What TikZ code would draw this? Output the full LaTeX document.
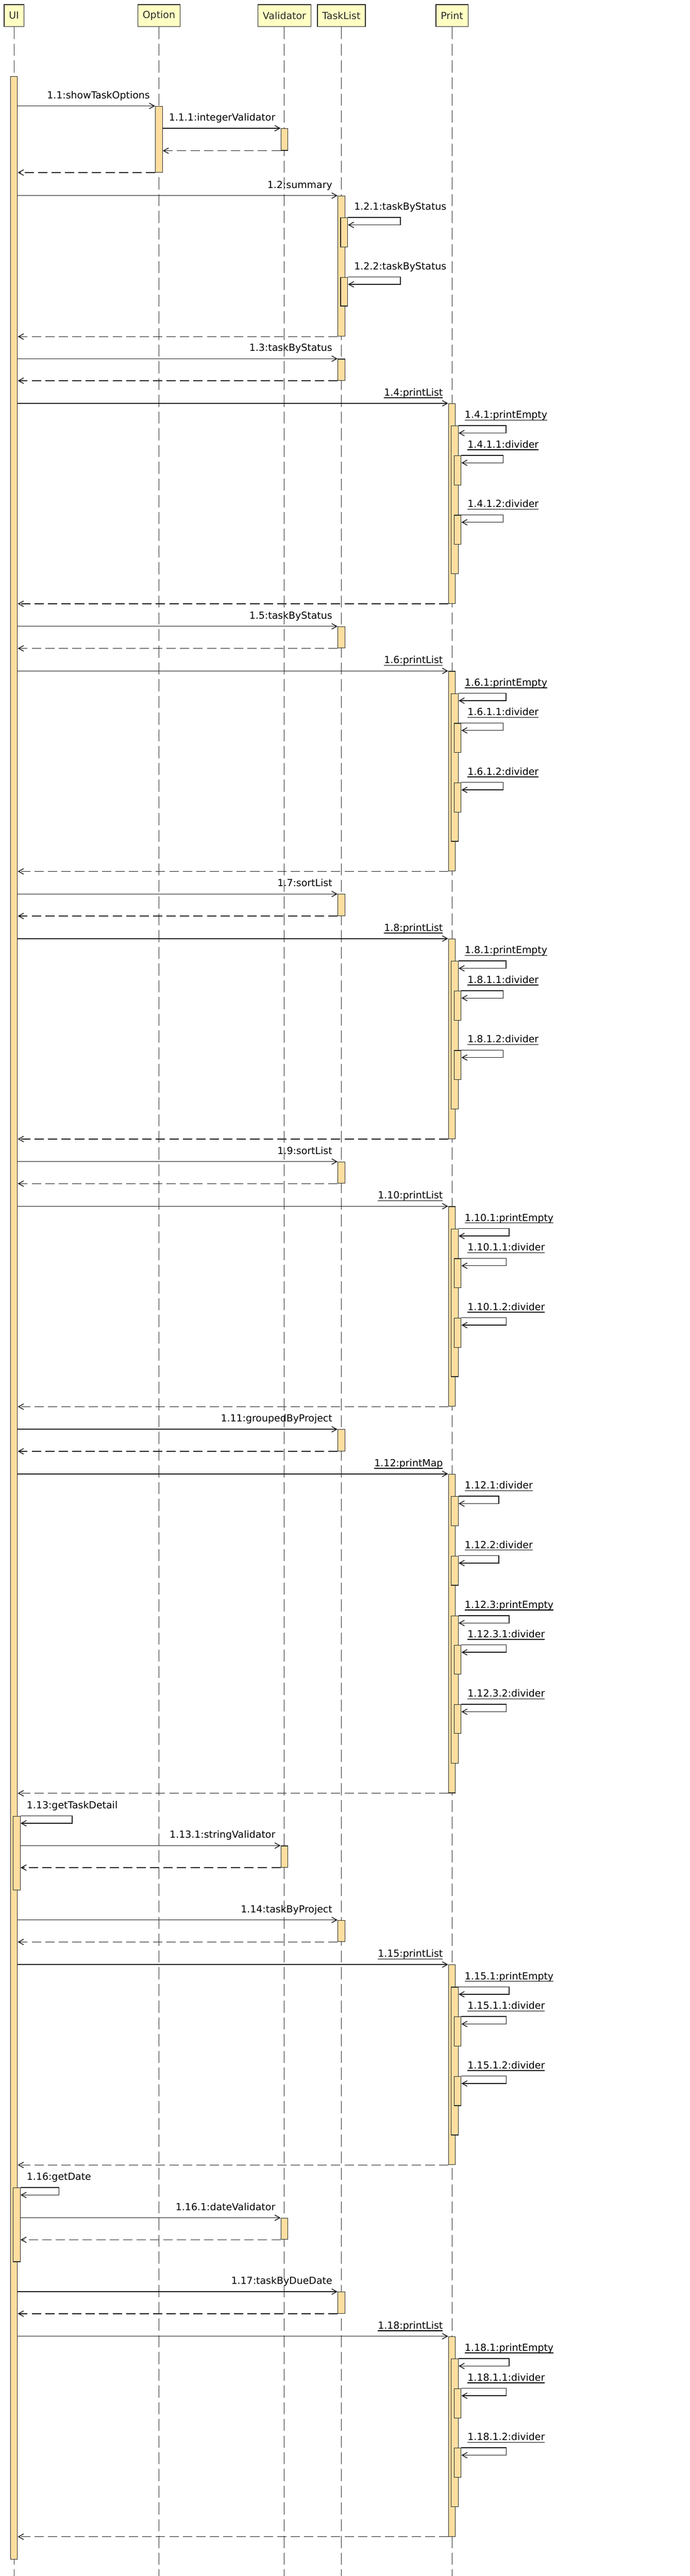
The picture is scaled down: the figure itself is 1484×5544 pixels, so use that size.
\documentclass[tikz,border=0pt]{standalone}
\usepackage{fontspec}
\setmainfont{DejaVu Sans}
\usepackage{xcolor}
\usetikzlibrary{positioning,arrows.meta}
\definecolor{headfill}{RGB}{255,255,196}
\definecolor{actfill}{RGB}{255,222,160}
\definecolor{edge}{RGB}{40,40,40}
\tikzset{
head/.style={draw=edge, line width=0.8pt, fill=headfill, text=edge, minimum height=23.5pt, inner xsep=5.25pt, inner ysep=0pt},
actbar/.style={draw=edge, line width=0.7pt, fill=actfill, minimum width=7.5pt, inner sep=0pt, anchor=north},
lifeline/.style={draw=edge, line width=0.6pt, dash pattern=on 13pt off 5pt},
msg/.style={draw=black!90, line width=0.8pt, -{Straight Barb[length=5.5pt,width=6pt]}},
msgret/.style={msg, dash pattern=on 10pt off 4.5pt},
lbl/.style={inner sep=0pt},
every node/.style={font=\fontsize{10.5}{12}\selectfont}
}
\newcommand{\undl}[1]{\setbox0=\hbox{#1}\rlap{\vrule width\wd0 height -1.6pt depth 2.4pt}\box0}
\newcommand{\actv}[4]{\node[actbar, minimum height={((#4)-(#3))*0.5pt}] (#1) at (#2,#3) {};}
\newcommand{\msgto}[3]{%
  \draw[msg] (#1.east |- #2.north west) -- (#2.north west);
  \node[lbl, anchor=base east] (#2l) at ([xshift=-5.5pt, yshift=8pt]#2.north west) {#3};}
\newcommand{\msgself}[2]{%
  \node[lbl, anchor=base west] (#1l) at ([xshift=6.5pt, yshift=8pt]#1.north east) {#2};
  \draw[msg] (#1.north east) -- (#1.north east -| #1l.south) -- ++(0,16) -- ([yshift=-8pt]#1.north east);}
\newcommand{\msgback}[2]{\draw[msgret] (#1.south west) -- (#2.east |- #1.south west);}
% call on TaskList
\newcommand{\tcall}[3]{%
  \actv{#1}{734.5}{#2}{#2+46}
  \msgto{uia}{#1}{#3}
  \msgback{#1}{uia}}
% printList on Print
\newcommand{\plist}[3]{%
  \actv{#1}{972.5}{#2}{#2+430}
  \actv{#1e}{978.5}{#2+48}{#2+366}
  \actv{#1a}{984.5}{#2+112}{#2+175}
  \actv{#1b}{984.5}{#2+240}{#2+303}
  \msgto{uia}{#1}{\undl{#3:printList}}
  \msgself{#1e}{\undl{#3.1:printEmpty}}
  \msgself{#1a}{\undl{#3.1.1:divider}}
  \msgself{#1b}{\undl{#3.1.2:divider}}
  \msgback{#1}{uia}}

\begin{document}
\begin{tikzpicture}[x=0.5pt, y=-0.5pt]
\useasboundingbox (0,0) rectangle (1484,5544);
\coordinate (bot) at (0,5544);

% lifelines
\node[head] (ui) at (30,33.5) {UI};
\node[head] (opt) at (342,33.5) {Option};
\node[head] (val) at (612,33.5) {Validator};
\node[head] (tl) at (734.5,33.5) {TaskList};
\node[head] (pr) at (972.5,33.5) {Print};
\foreach \h in {ui,opt,val,tl,pr}
  \draw[lifeline] (\h.south) -- (\h.south |- bot);

\actv{uia}{30}{164}{5507}

% 1.1
\actv{opta}{342}{228}{370}
\actv{val1}{612}{276}{323}
\msgto{uia}{opta}{1.1:showTaskOptions}
\msgto{opta}{val1}{1.1.1:integerValidator}
\msgback{val1}{opta}
\msgback{opta}{uia}

% 1.2
\actv{sum}{734.5}{421}{723}
\actv{sum1}{740.5}{468}{531}
\actv{sum2}{740.5}{596}{658}
\msgto{uia}{sum}{1.2:summary}
\msgself{sum1}{1.2.1:taskByStatus}
\msgself{sum2}{1.2.2:taskByStatus}
\msgback{sum}{uia}

\tcall{tl3}{772}{1.3:taskByStatus}
\plist{p4}{868}{1.4}
\tcall{tl5}{1348}{1.5:taskByStatus}
\plist{p6}{1444}{1.6}
\tcall{tl7}{1924}{1.7:sortList}
\plist{p8}{2020}{1.8}
\tcall{tl9}{2500}{1.9:sortList}
\plist{p10}{2596}{1.10}
\tcall{tl11}{3076}{1.11:groupedByProject}

% 1.12
\actv{pm}{972.5}{3172}{3858}
\actv{pm1}{978.5}{3220}{3283}
\actv{pm2}{978.5}{3348}{3411}
\actv{pm3}{978.5}{3477}{3794}
\actv{pm31}{984.5}{3540}{3602}
\actv{pm32}{984.5}{3668}{3730}
\msgto{uia}{pm}{\undl{1.12:printMap}}
\msgself{pm1}{\undl{1.12.1:divider}}
\msgself{pm2}{\undl{1.12.2:divider}}
\msgself{pm3}{\undl{1.12.3:printEmpty}}
\msgself{pm31}{\undl{1.12.3.1:divider}}
\msgself{pm32}{\undl{1.12.3.2:divider}}
\msgback{pm}{uia}

% 1.13
\actv{gtd}{36}{3908}{4067}
\actv{val13}{612}{3972}{4018}
\msgself{gtd}{1.13:getTaskDetail}
\msgto{gtd}{val13}{1.13.1:stringValidator}
\msgback{val13}{gtd}

\tcall{tl14}{4132}{1.14:taskByProject}
\plist{p15}{4228}{1.15}

% 1.16
\actv{gd}{36}{4708}{4867}
\actv{val16}{612}{4773}{4819}
\msgself{gd}{1.16:getDate}
\msgto{gd}{val16}{1.16.1:dateValidator}
\msgback{val16}{gd}

\tcall{tl17}{4932}{1.17:taskByDueDate}
\plist{p18}{5028}{1.18}
\end{tikzpicture}
\end{document}
